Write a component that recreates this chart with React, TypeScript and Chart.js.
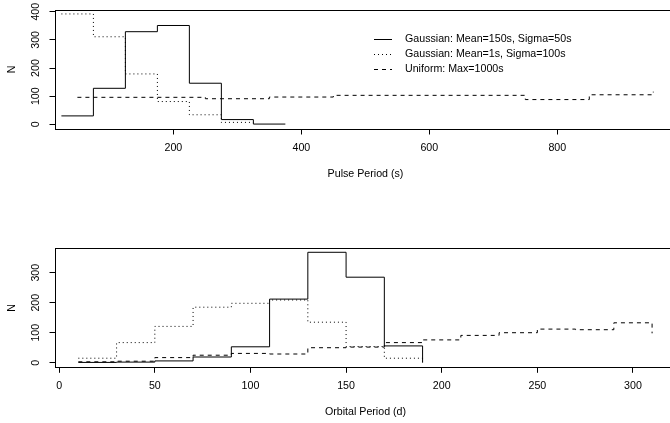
import React, { useEffect, useRef } from "react";
import { Chart, registerables } from "chart.js";

Chart.register(...registerables);

// ---------- data ----------
const legendLabels = [
  "Gaussian: Mean=150s, Sigma=50s",
  "Gaussian: Mean=1s, Sigma=100s",
  "Uniform: Max=1000s",
];

// Pulse period panel (step points, R type="s")
const pulseSolidX = [25, 75, 125, 175, 225, 275, 325, 375];
const pulseSolidN = [30, 128, 329, 351, 146, 17, 1, 1];
const pulseDottedX = [25, 75, 125, 175, 225, 275, 325];
const pulseDottedN = [392, 311, 179, 81, 34, 7, 7];
const pulseDashedX = [50, 150, 250, 350, 450, 550, 650, 750, 850, 950];
const pulseDashedN = [96, 96, 91, 97, 103, 103, 103, 88, 105, 116];
const pulseXTicks = [200, 400, 600, 800];
const pulseYTicks = [0, 100, 200, 300, 400];

// Orbital period panel
const orbitSolidX = [10, 30, 50, 70, 90, 110, 130, 150, 170, 190];
const orbitSolidN = [1, 2, 6, 19, 53, 212, 368, 285, 56, 0];
const orbitDottedX = [10, 30, 50, 70, 90, 110, 130, 150, 170, 190];
const orbitDottedN = [15, 67, 121, 185, 198, 209, 135, 54, 15, 3];
const orbitDashedX = [10, 30, 50, 70, 90, 110, 130, 150, 170, 190, 210, 230, 250, 270, 290, 310];
const orbitDashedN = [3, 5, 17, 25, 31, 29, 50, 52, 67, 76, 91, 100, 112, 110, 133, 98];
const orbitXTicks = [0, 50, 100, 150, 200, 250, 300];
const orbitYTicks = [0, 100, 200, 300];

// ---------- styling ----------
const FONT_FAMILY = "'Liberation Sans', Arial, Helvetica, sans-serif";
const FONT_SIZE = 10.67;
const DASHES: number[][] = [[], [1, 3], [4, 4]];
const CANVAS_W = 690;

function pts(xs: number[], ys: number[]) {
  return xs.map((x, i) => ({ x, y: ys[i] }));
}

const boxPlugin = {
  id: "rbox",
  afterDraw(chart: any) {
    const { ctx, chartArea } = chart;
    ctx.save();
    ctx.strokeStyle = "#000";
    ctx.lineWidth = 1;
    ctx.setLineDash([]);
    const l = Math.round(chartArea.left) + 0.5;
    const t = Math.round(chartArea.top) + 0.5;
    const r = Math.round(chartArea.right) + 0.5;
    const b = Math.round(chartArea.bottom) + 0.5;
    ctx.strokeRect(l, t, r - l, b - t);
    ctx.restore();
  },
};

const legendPlugin = {
  id: "rlegend",
  afterDraw(chart: any) {
    const { ctx } = chart;
    ctx.save();
    ctx.font = `${FONT_SIZE}px ${FONT_FAMILY}`;
    ctx.textBaseline = "middle";
    ctx.textAlign = "left";
    chart.data.datasets.forEach((ds: any, i: number) => {
      const y = Math.round(39 + i * 15) + 0.5;
      ctx.strokeStyle = "#000";
      ctx.lineWidth = 1;
      ctx.setLineDash(ds.borderDash || []);
      ctx.beginPath();
      ctx.moveTo(374, y);
      ctx.lineTo(392, y);
      ctx.stroke();
      ctx.setLineDash([]);
      ctx.fillStyle = "#000";
      ctx.fillText(ds.label, 405, y);
    });
    ctx.restore();
  },
};

interface PanelSpec {
  height: number;
  padTop: number;
  axisHeight: number;
  titlePadBottom: number;
  xMin: number;
  xMax: number;
  yMin: number;
  yMax: number;
  xTicks: number[];
  yTicks: number[];
  xTitle: string;
  series: { x: number[]; y: number[] }[];
  legend: boolean;
}

function buildConfig(spec: PanelSpec): any {
  const font = { family: FONT_FAMILY, size: FONT_SIZE };
  const grid = {
    display: true,
    drawOnChartArea: false,
    drawTicks: true,
    tickLength: 5.5,
    color: "#000",
    lineWidth: 1,
  };
  return {
    type: "line",
    data: {
      datasets: spec.series.map((s, i) => ({
        label: legendLabels[i],
        data: pts(s.x, s.y),
        borderColor: "#000",
        borderWidth: 1,
        borderDash: DASHES[i],
        pointRadius: 0,
        fill: false,
        tension: 0,
        stepped: "before",
      })),
    },
    options: {
      animation: false,
      responsive: false,
      devicePixelRatio: 1,
      layout: { padding: { top: spec.padTop, left: 0, right: CANVAS_W - 676, bottom: 0 } },
      plugins: {
        legend: { display: false },
        tooltip: { enabled: false },
      },
      events: [],
      scales: {
        x: {
          type: "linear",
          position: "bottom",
          min: spec.xMin,
          max: spec.xMax,
          afterBuildTicks: (s: any) => {
            s.ticks = spec.xTicks.map((v) => ({ value: v }));
          },
          afterFit: (s: any) => {
            s.height = spec.axisHeight;
            s.paddingLeft = 0;
            s.paddingRight = 0;
            s.paddingTop = 0;
            s.paddingBottom = 0;
          },
          ticks: {
            autoSkip: false,
            maxRotation: 0,
            minRotation: 0,
            padding: 7,
            color: "#000",
            font,
            callback: (v: any) => String(v),
          },
          grid,
          border: { display: false },
          title: {
            display: true,
            text: spec.xTitle,
            color: "#000",
            font,
            padding: { top: 0, bottom: spec.titlePadBottom },
          },
        },
        y: {
          type: "linear",
          position: "left",
          min: spec.yMin,
          max: spec.yMax,
          afterBuildTicks: (s: any) => {
            s.ticks = spec.yTicks.map((v) => ({ value: v }));
          },
          afterFit: (s: any) => {
            s.width = 55;
            s.paddingLeft = 0;
            s.paddingRight = 0;
            s.paddingTop = 0;
            s.paddingBottom = 0;
          },
          ticks: {
            autoSkip: false,
            minRotation: 90,
            maxRotation: 90,
            crossAlign: "center",
            padding: 4.2,
            color: "#000",
            font,
            callback: (v: any) => String(v),
          },
          grid,
          border: { display: false },
          title: {
            display: true,
            text: "N",
            color: "#000",
            font,
            padding: { top: 5.5, bottom: 0 },
          },
        },
      },
    },
    plugins: spec.legend ? [boxPlugin, legendPlugin] : [boxPlugin],
  };
}

const topSpec: PanelSpec = {
  height: 211,
  padTop: 10,
  axisHeight: 211 - 129,
  titlePadBottom: 30.6,
  xMin: 15,
  xMax: 985.5,
  yMin: -16.5,
  yMax: 406,
  xTicks: pulseXTicks,
  yTicks: pulseYTicks,
  xTitle: "Pulse Period (s)",
  series: [
    { x: pulseSolidX, y: pulseSolidN },
    { x: pulseDottedX, y: pulseDottedN },
    { x: pulseDashedX, y: pulseDashedN },
  ],
  legend: true,
};

const bottomSpec: PanelSpec = {
  height: 212,
  padTop: 248.3 - 211,
  axisHeight: 423 - 367.3,
  titlePadBottom: 4.1,
  xMin: -2.2,
  xMax: 322.5,
  yMin: -15.3,
  yMax: 381.3,
  xTicks: orbitXTicks,
  yTicks: orbitYTicks,
  xTitle: "Orbital Period (d)",
  series: [
    { x: orbitSolidX, y: orbitSolidN },
    { x: orbitDottedX, y: orbitDottedN },
    { x: orbitDashedX, y: orbitDashedN },
  ],
  legend: false,
};

function Panel({ spec }: { spec: PanelSpec }) {
  const ref = useRef<HTMLCanvasElement | null>(null);
  useEffect(() => {
    if (!ref.current) return;
    const chart = new Chart(ref.current, buildConfig(spec));
    return () => chart.destroy();
  }, [spec]);
  return (
    <canvas
      ref={ref}
      width={CANVAS_W}
      height={spec.height}
      style={{ display: "block", width: CANVAS_W, height: spec.height }}
    />
  );
}

export default function App() {
  return (
    <div
      style={{
        position: "absolute",
        left: 0,
        top: 0,
        width: 670,
        height: 423,
        overflow: "hidden",
        background: "#fff",
      }}
    >
      <Panel spec={topSpec} />
      <Panel spec={bottomSpec} />
    </div>
  );
}
